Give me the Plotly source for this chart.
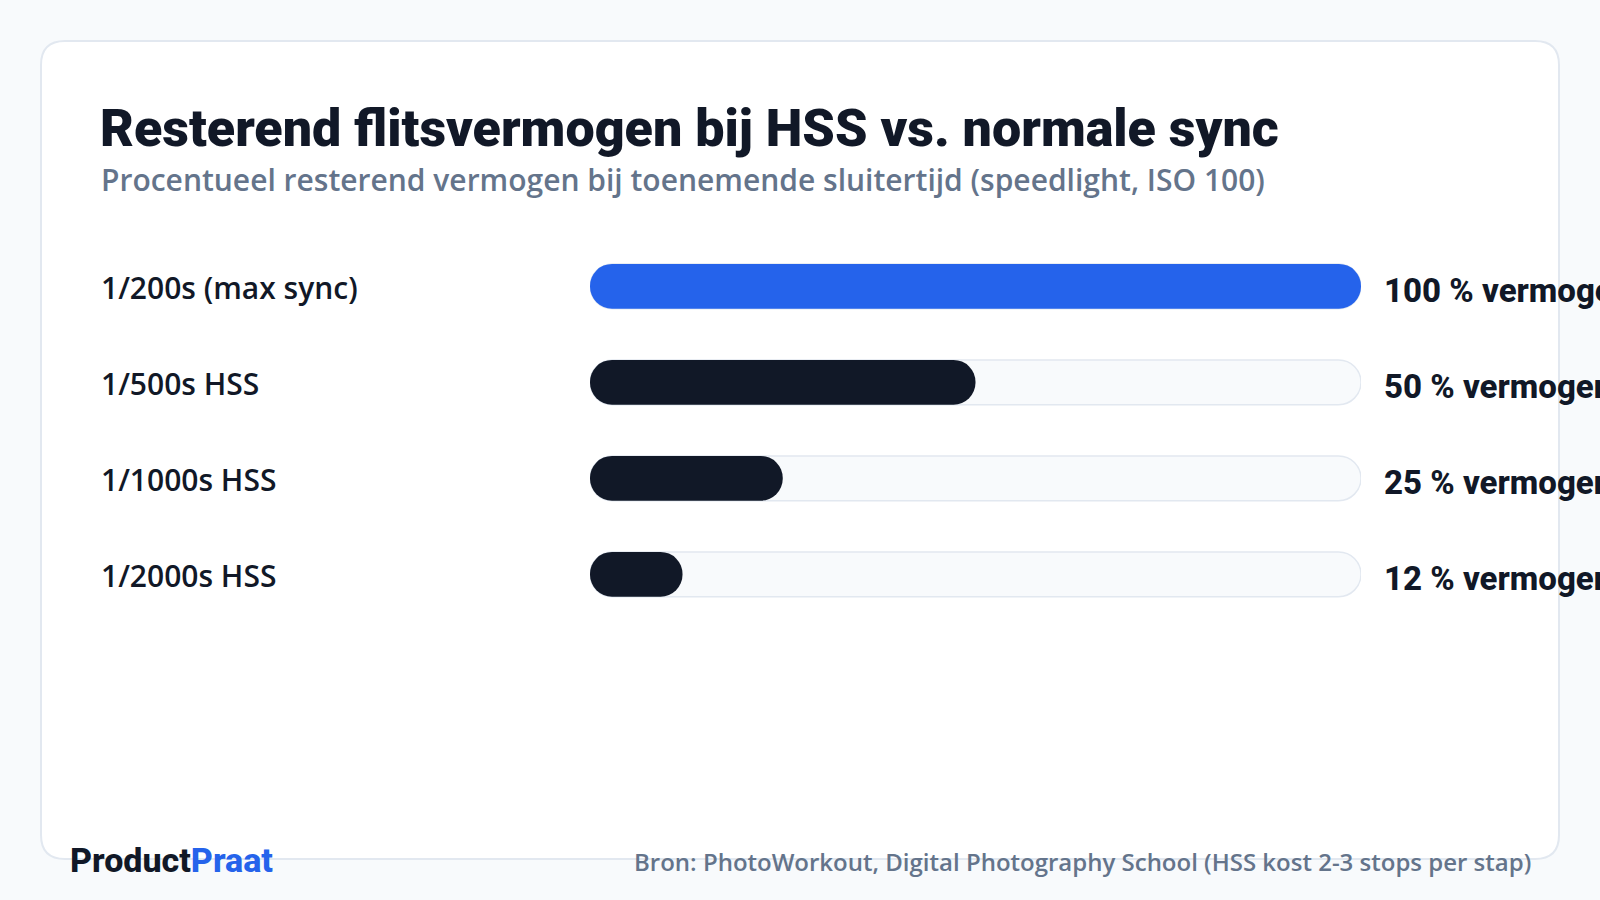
import plotly.graph_objects as go

# ---------------- data ----------------
categories = ["1/200s (max sync)", "1/500s HSS", "1/1000s HSS", "1/2000s HSS"]
power_pct = [100, 50, 25, 12]
track_max = 100
bar_colors = ["#2563eb", "#111827", "#111827", "#111827"]
value_labels = [f"{v} % vermogen" for v in power_pct]

title_text = "Resterend flitsvermogen bij HSS vs. normale sync"
subtitle_text = "Procentueel resterend vermogen bij toenemende sluitertijd (speedlight, ISO 100)"
source_text = "Bron: PhotoWorkout, Digital Photography School (HSS kost 2-3 stops per stap)"

# ---------------- layout constants (pixels) ----------------
W, H = 1600, 900
TRACK_X0, TRACK_X1 = 590, 1361
ROW_TOP, ROW_STEP = 238.3, 96
BAR_PX = 44.7

n = len(categories)
rows = list(range(n))
bar_w = BAR_PX / ROW_STEP

fig = go.Figure()

# background track
fig.add_trace(go.Bar(
    y=rows, x=[track_max] * n, base=[0] * n, orientation="h", width=bar_w,
    marker=dict(color="#f8fafc", cornerradius="50%",
                line=dict(color="#e2e8f0", width=1.5)),
    hoverinfo="skip", showlegend=False,
))
# values
fig.add_trace(go.Bar(
    y=rows, x=power_pct, base=[0] * n, orientation="h", width=bar_w,
    marker=dict(color=bar_colors, cornerradius="50%", line=dict(width=0)),
    hoverinfo="skip", showlegend=False,
))

# ---------------- card ----------------
L, R = 41 / W, 1559 / W
T, B = 1 - 41 / H, 1 - 859 / H
rx, ry = 24 / W, 24 / H
card_path = (
    f"M {L+rx},{T} L {R-rx},{T} Q {R},{T} {R},{T-ry} L {R},{B+ry} "
    f"Q {R},{B} {R-rx},{B} L {L+rx},{B} Q {L},{B} {L},{B+ry} "
    f"L {L},{T-ry} Q {L},{T} {L+rx},{T} Z"
)

annotations = []
annotations.append(dict(
    text=title_text, xref="paper", yref="paper", x=98 / W, y=1 - 128 / H,
    xanchor="left", yanchor="middle", showarrow=False,
    font=dict(family="Roboto", size=52, color="#111827", weight=900),
))
annotations.append(dict(
    text=subtitle_text, xref="paper", yref="paper", x=99 / W, y=1 - 180 / H,
    xanchor="left", yanchor="middle", showarrow=False,
    font=dict(family="Open Sans", size=30, color="#64748b", weight=600),
))
for i, (cat, lab) in enumerate(zip(categories, value_labels)):
    annotations.append(dict(
        text=cat, xref="paper", yref="y", x=99 / W, y=i, yshift=-1,
        xanchor="left", yanchor="middle", showarrow=False,
        font=dict(family="Open Sans", size=30, color="#111827", weight=600),
    ))
    annotations.append(dict(
        text=lab, xref="x", yref="y", x=track_max, y=i, xshift=21, yshift=-4,
        xanchor="left", yanchor="middle", showarrow=False,
        font=dict(family="Roboto", size=33, color="#111827", weight=800),
    ))
annotations.append(dict(
    text="Product<span style='color:#2563eb'>Praat</span>",
    xref="paper", yref="paper", x=68 / W, y=1 - 860 / H,
    xanchor="left", yanchor="middle", showarrow=False,
    font=dict(family="Roboto", size=34, color="#111827", weight=800),
))
annotations.append(dict(
    text=source_text, xref="paper", yref="paper", x=1533 / W, y=1 - 861.5 / H,
    xanchor="right", yanchor="middle", showarrow=False,
    font=dict(family="Open Sans", size=24, color="#64748b", weight=600),
))

fig.update_layout(
    width=W, height=H,
    margin=dict(l=0, r=0, t=0, b=0),
    paper_bgcolor="#f8fafc",
    plot_bgcolor="rgba(0,0,0,0)",
    barmode="overlay",
    showlegend=False,
    xaxis=dict(range=[0, track_max], domain=[TRACK_X0 / W, TRACK_X1 / W],
               visible=False, fixedrange=True),
    yaxis=dict(range=[n - 0.5, -0.5],
               domain=[1 - (ROW_TOP + ROW_STEP * n) / H, 1 - ROW_TOP / H],
               visible=False, fixedrange=True),
    shapes=[dict(type="path", path=card_path, xref="paper", yref="paper",
                 fillcolor="#ffffff", line=dict(color="#e2e8f0", width=2),
                 layer="below")],
    annotations=annotations,
)

fig.write_html("out.html")
